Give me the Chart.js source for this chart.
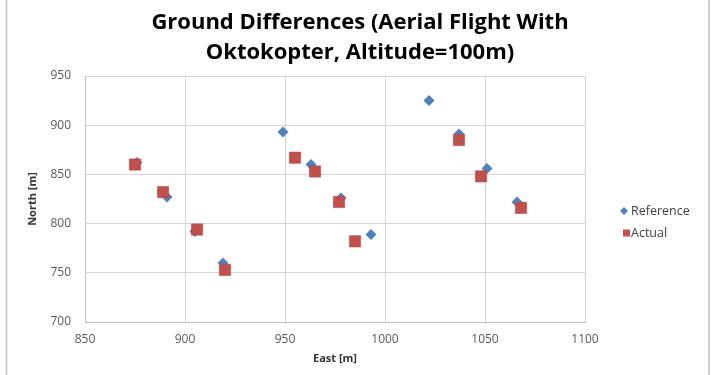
<!DOCTYPE html>
<html>
<head>
<meta charset="utf-8">
<script src="https://cdn.jsdelivr.net/npm/chart.js@4/dist/chart.umd.min.js"></script>
<style>
html,body{margin:0;padding:0;background:#fff;}
#wrap{position:relative;width:720px;height:375px;}
</style>
</head>
<body>
<div id="wrap"><canvas id="c" width="720" height="375"></canvas></div>
<script>
// ---- data ----
const seriesNames = ['Reference', 'Actual'];
const refEast  = [876, 891, 905, 919, 949, 963, 978, 993, 1022, 1037, 1051, 1066];
const refNorth = [862, 827, 792, 760, 893, 860, 826, 789, 925, 891, 856, 822];
const actEast  = [875, 889, 906, 920, 955, 965, 977, 985, 1037, 1048, 1068];
const actNorth = [860, 832, 794, 753, 867, 853, 822, 782, 885, 848, 816];
const xTickLabels = [850, 900, 950, 1000, 1050, 1100];
const yTickLabels = [700, 750, 800, 850, 900, 950];
const titleLines = ['Ground Differences (Aerial Flight With', 'Oktokopter, Altitude=100m)'];
const xTitle = 'East [m]';
const yTitle = 'North [m]';

const blue = '#4f81bd';
const red = '#c0504d';
const FONT = 'Open Sans';

function pts(xs, ys){ return xs.map((x,i)=>({x:x, y:ys[i]})); }

const frame = {
  id:'frame',
  afterDraw(chart){
    const ctx = chart.ctx;
    ctx.save();
    ctx.strokeStyle = '#bfbfbf';
    ctx.lineWidth = 1.5;
    ctx.strokeRect(6.5, -2, 702.5, 379);
    ctx.restore();
  }
};

const legendPlugin = {
  id:'customLegend',
  afterDraw(chart){
    const ctx = chart.ctx;
    const ds = chart.data.datasets;
    ctx.save();
    ctx.font = '12.5px "' + FONT + '"';
    ctx.textBaseline = 'middle';
    let y = 211;
    ctx.fillStyle = ds[0].backgroundColor;
    ctx.beginPath();
    ctx.moveTo(624, y-4); ctx.lineTo(628, y); ctx.lineTo(624, y+4); ctx.lineTo(620, y); ctx.closePath();
    ctx.fill();
    ctx.fillStyle = '#404040';
    ctx.fillText(ds[0].label, 631, y);
    y = 233;
    ctx.fillStyle = ds[1].backgroundColor;
    ctx.fillRect(623, y-3.5, 7, 7);
    ctx.fillStyle = '#404040';
    ctx.fillText(ds[1].label, 631, y);
    ctx.restore();
  }
};

new Chart(document.getElementById('c'), {
  type: 'scatter',
  data: {
    datasets: [
      { label: seriesNames[0], data: pts(refEast, refNorth), pointStyle: 'rectRot', pointRadius: 5.5, pointHoverRadius: 5.5,
        backgroundColor: blue, borderColor: blue, borderWidth: 0, order: 1 },
      { label: seriesNames[1], data: pts(actEast, actNorth), pointStyle: 'rect', pointRadius: 8, pointHoverRadius: 8,
        backgroundColor: red, borderColor: '#b0403d', borderWidth: 0.5, order: 0 }
    ]
  },
  options: {
    responsive: false,
    animation: false,
    events: [],
    layout: { padding: 0 },
    plugins: {
      legend: { display: false },
      tooltip: { enabled: false },
      title: {
        display: true,
        text: titleLines,
        color: '#000',
        font: { family: FONT, size: 22, weight: 'bold', lineHeight: 1.364 },
        padding: { top: 8, bottom: 8 }
      }
    },
    scales: {
      x: {
        type: 'linear',
        min: xTickLabels[0], max: xTickLabels[xTickLabels.length-1],
        afterBuildTicks(s){ s.ticks = xTickLabels.map(v=>({value:v})); },
        afterFit(s){ s.height = 53; },
        grid: { color: '#d4d4d4', drawTicks: false },
        border: { color: '#bfbfbf' },
        ticks: { color: '#595959', font: { family: FONT, size: 12 }, padding: 10, callback: v => String(v) },
        title: { display: true, text: xTitle, color: '#333', font: { family: FONT, size: 11, weight: 'bold' }, padding: { top: 2, bottom: 10 } }
      },
      y: {
        type: 'linear',
        min: yTickLabels[0], max: yTickLabels[yTickLabels.length-1],
        afterBuildTicks(s){ s.ticks = yTickLabels.map(v=>({value:v})); },
        afterFit(s){ s.width = 85; },
        grid: { color: '#d4d4d4', drawTicks: false },
        border: { color: '#bfbfbf' },
        ticks: { color: '#595959', font: { family: FONT, size: 12 }, padding: 14, callback: v => String(v) },
        title: { display: true, text: yTitle, color: '#333', font: { family: FONT, size: 11, weight: 'bold' }, padding: { top: 26, bottom: 0 } }
      },
      spacer: {
        type: 'linear',
        position: 'right',
        display: true,
        afterFit(s){ s.width = 135; },
        grid: { display: false, drawOnChartArea: false },
        border: { display: false },
        ticks: { display: false }
      }
    }
  },
  plugins: [frame, legendPlugin]
});
</script>
</body>
</html>
